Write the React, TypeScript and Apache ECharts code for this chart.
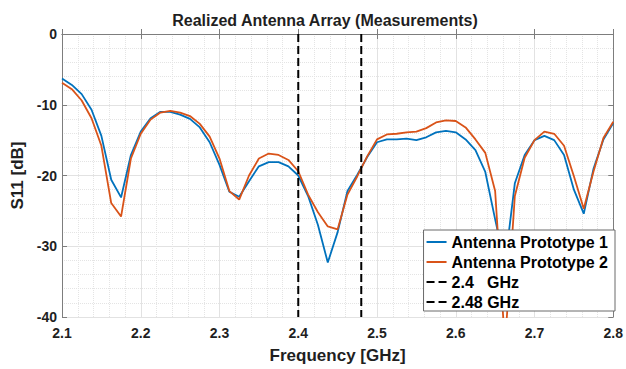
import { useEffect, useRef } from "react";
import * as echarts from "echarts";

// Frequency samples [GHz]
const freqGHz = [
  2.1, 2.1125, 2.125, 2.1375, 2.15, 2.1625, 2.175, 2.1875, 2.2, 2.2125,
  2.225, 2.2375, 2.25, 2.2625, 2.275, 2.2875, 2.3, 2.3125, 2.325, 2.3375,
  2.35, 2.3625, 2.375, 2.3875, 2.4, 2.4125, 2.425, 2.4375, 2.45, 2.4625,
  2.475, 2.4875, 2.5, 2.5125, 2.525, 2.5375, 2.55, 2.5625, 2.575, 2.5875,
  2.6, 2.6125, 2.625, 2.6375, 2.65, 2.6625, 2.675, 2.6875, 2.7, 2.7125,
  2.725, 2.7375, 2.75, 2.7625, 2.775, 2.7875, 2.8,
];

// S11 [dB] – Antenna Prototype 1
const prototype1 = [
  -6.3, -7.2, -8.5, -10.7, -14.4, -20.6, -23.1, -17.1, -13.8, -11.9,
  -11.0, -11.0, -11.4, -12.0, -13.2, -15.3, -18.5, -22.3, -23.0, -20.8,
  -18.7, -18.1, -18.1, -18.7, -20.0, -22.9, -27.0, -32.3, -28.0, -22.2,
  -19.9, -17.4, -15.3, -14.9, -14.9, -14.8, -15.0, -14.6, -13.9, -13.7,
  -13.9, -14.9, -16.4, -19.5, -26.2, -32.5, -21.1, -17.1, -15.0, -14.4,
  -15.0, -17.1, -22.0, -25.4, -19.0, -14.9, -12.6,
];

// S11 [dB] – Antenna Prototype 2
const prototype2 = [
  -6.9, -7.8, -9.4, -11.9, -15.8, -23.9, -25.8, -17.6, -14.1, -12.1,
  -11.1, -10.85, -11.1, -11.6, -12.7, -14.5, -17.6, -22.2, -23.4, -20.0,
  -17.6, -16.9, -17.1, -17.8, -19.4, -22.7, -25.2, -27.2, -27.6, -22.7,
  -20.1, -17.3, -14.9, -14.2, -14.1, -13.9, -13.8, -13.3, -12.5, -12.2,
  -12.3, -13.2, -14.9, -16.8, -22.2, -44.0, -22.9, -17.5, -15.0, -13.8,
  -14.1, -15.8, -20.1, -24.7, -19.4, -14.7, -12.4,
];

const seriesNames = ["Antenna Prototype 1", "Antenna Prototype 2"];
const markerFreqs = [2.4, 2.48];
const markerNames = ["2.4   GHz", "2.48 GHz"];

const xMin = 2.1;
const xMax = 2.8;
const xStep = 0.1;
const yMin = -40;
const yMax = 0;
const yStep = 10;

const titleText = "Realized Antenna Array (Measurements)";
const xName = "Frequency [GHz]";
const yName = "S11 [dB]";

export default function App() {
  const ref = useRef<HTMLDivElement>(null);

  useEffect(() => {
    if (!ref.current) return;
    const chart = echarts.init(ref.current, undefined, { renderer: "svg" });
    const font = "'Liberation Sans', Arial, Helvetica, sans-serif";
    const textColor = "#1f1f1f";
    const frameColor = "#7d7d7d";

    const baseX = {
      type: "value" as const,
      min: xMin,
      max: xMax,
      interval: xStep,
    };
    const baseY = {
      type: "value" as const,
      min: yMin,
      max: yMax,
      interval: yStep,
    };

    const curveColors = ["#0072BD", "#D95319"];
    const curves = [prototype1, prototype2].map((vals, k) => ({
      name: seriesNames[k],
      type: "line" as const,
      data: freqGHz.map((f, i) => [f, vals[i]]),
      showSymbol: false,
      symbol: "circle",
      clip: true,
      lineStyle: { color: curveColors[k], width: 1.8 },
      itemStyle: { color: curveColors[k] },
      z: 2 + k,
    }));
    const markers = markerFreqs.map((f, k) => ({
      name: markerNames[k],
      type: "line" as const,
      data: [
        [f, yMax],
        [f, yMin],
      ],
      showSymbol: false,
      symbol: "circle",
      lineStyle: { color: "#000000", width: 2, type: [8, 4] },
      itemStyle: { color: "#000000" },
      z: 5,
    }));

    chart.setOption({
      animation: false,
      backgroundColor: "#ffffff",
      textStyle: { fontFamily: font },
      title: {
        text: titleText,
        left: 320,
        textAlign: "center",
        top: 7,
        textStyle: {
          fontSize: 16,
          fontWeight: "bold",
          color: textColor,
          fontFamily: font,
        },
      },
      grid: { left: 62, right: 11, top: 34, bottom: 45, containLabel: false },
      legend: {
        orient: "vertical",
        right: 11,
        top: 230,
        data: [...seriesNames, ...markerNames],
        itemWidth: 20,
        itemHeight: 14,
        itemGap: 4,
        padding: [4, 7, 1, 2],
        backgroundColor: "#ffffff",
        borderColor: "#6a6a6a",
        borderWidth: 1,
        borderRadius: 0,
        itemStyle: { opacity: 0 },
        lineStyle: { width: 2 },
        textStyle: {
          fontSize: 16,
          fontWeight: "bold",
          color: "#000000",
          fontFamily: font,
          lineHeight: 16,
        },
      },
      xAxis: [
        {
          ...baseX,
          position: "bottom",
          name: xName,
          nameLocation: "middle",
          nameGap: 30,
          nameTextStyle: {
            fontSize: 17,
            fontWeight: "bold",
            color: textColor,
            fontFamily: font,
          },
          axisLine: { show: true, lineStyle: { color: frameColor, width: 1 } },
          axisTick: { show: true, inside: true, length: 5, lineStyle: { color: frameColor } },
          axisLabel: {
            fontSize: 14,
            fontWeight: "bold",
            color: textColor,
            margin: 9,
            fontFamily: font,
            formatter: (v: number) => v.toFixed(1),
          },
          splitLine: { show: true, lineStyle: { color: "#e2e2e2", width: 1 } },
          minorTick: { show: false, splitNumber: 5 },
          minorSplitLine: { show: true, lineStyle: { color: "#e4e4e4", type: "dotted", width: 1 } },
        },
        {
          ...baseX,
          position: "top",
          axisLine: { show: true, lineStyle: { color: frameColor, width: 1 } },
          axisTick: { show: true, inside: true, length: 5, lineStyle: { color: frameColor } },
          axisLabel: { show: false },
          splitLine: { show: false },
        },
      ],
      yAxis: [
        {
          ...baseY,
          position: "left",
          name: yName,
          nameLocation: "middle",
          nameGap: 29,
          nameRotate: 90,
          nameTextStyle: {
            fontSize: 17,
            fontWeight: "bold",
            color: textColor,
            fontFamily: font,
          },
          axisLine: { show: true, lineStyle: { color: frameColor, width: 1 } },
          axisTick: { show: true, inside: true, length: 5, lineStyle: { color: frameColor } },
          axisLabel: {
            fontSize: 14,
            fontWeight: "bold",
            color: textColor,
            margin: 5,
            fontFamily: font,
          },
          splitLine: { show: true, lineStyle: { color: "#e2e2e2", width: 1 } },
          minorTick: { show: false, splitNumber: 5 },
          minorSplitLine: { show: true, lineStyle: { color: "#e4e4e4", type: "dotted", width: 1 } },
        },
        {
          ...baseY,
          position: "right",
          axisLine: { show: true, lineStyle: { color: frameColor, width: 1 } },
          axisTick: { show: true, inside: true, length: 5, lineStyle: { color: frameColor } },
          axisLabel: { show: false },
          splitLine: { show: false },
        },
      ],
      series: [...curves, ...markers],
    });

    return () => {
      chart.dispose();
    };
  }, []);

  return (
    <div
      ref={ref}
      style={{
        position: "fixed",
        left: 0,
        top: 0,
        width: 626,
        height: 369,
        background: "#ffffff",
      }}
    />
  );
}
